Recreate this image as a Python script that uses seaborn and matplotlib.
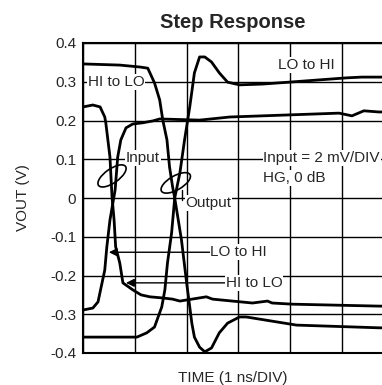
import numpy as np
import pandas as pd
import matplotlib.pyplot as plt
import matplotlib.transforms as mtransforms
from matplotlib.patches import Ellipse
import seaborn as sns

# input, HI to LO
in_h2l_t = [0, 0.19, 0.33, 0.42, 0.44, 0.48, 0.52, 0.54, 0.56, 0.60, 0.63, 0.71, 0.77, 0.96, 1.12,
            1.29, 1.54, 1.73, 1.87, 2.38, 2.5, 3.27, 3.56, 3.65, 4.04, 5.71, 5.8]
in_h2l_v = [0.235, 0.24, 0.235, 0.209, 0.194, 0.15, 0.106, 0.054, 0.003, -0.057, -0.126, -0.168, -0.219,
            -0.237, -0.25, -0.255, -0.258, -0.261, -0.266, -0.255, -0.261, -0.271, -0.266, -0.271, -0.274,
            -0.279, -0.279]

# input, LO to HI
in_l2h_t = [0, 0.19, 0.29, 0.35, 0.42, 0.46, 0.52, 0.62, 0.67, 0.73, 0.83, 0.96, 1.15, 1.35, 1.48,
            2.25, 2.83, 4.94, 5.19, 5.42, 5.71, 5.8]
in_l2h_v = [-0.289, -0.284, -0.268, -0.23, -0.186, -0.126, -0.057, 0.021, 0.106, 0.15, 0.181, 0.191,
            0.194, 0.199, 0.204, 0.201, 0.209, 0.219, 0.212, 0.225, 0.222, 0.222]

# output, HI to LO
out_h2l_t = [0, 0.71, 1.1, 1.25, 1.38, 1.48, 1.54, 1.62, 1.67, 1.73, 1.77, 1.9, 2.0, 2.06, 2.1, 2.15,
             2.25, 2.35, 2.48, 2.63, 2.79, 3.02, 3.15, 4.12, 5.71, 5.8]
out_h2l_v = [0.346, 0.343, 0.338, 0.335, 0.297, 0.253, 0.201, 0.15, 0.08, 0.028, 0.0, -0.108, -0.219,
             -0.281, -0.323, -0.359, -0.385, -0.397, -0.387, -0.348, -0.323, -0.307, -0.307, -0.328,
             -0.335, -0.335]

# output, LO to HI
out_l2h_t = [0, 1.04, 1.23, 1.38, 1.52, 1.58, 1.63, 1.71, 1.77, 1.87, 1.96, 2.06, 2.15, 2.25, 2.35,
             2.48, 2.63, 2.79, 3.02, 3.46, 3.98, 5.08, 5.38, 5.71, 5.8]
out_l2h_v = [-0.359, -0.359, -0.348, -0.333, -0.281, -0.237, -0.168, -0.09, 0.0, 0.065, 0.15, 0.235,
             0.323, 0.364, 0.364, 0.351, 0.323, 0.299, 0.292, 0.294, 0.299, 0.31, 0.312, 0.312, 0.312]

yticks = [0.4, 0.3, 0.2, 0.1, 0, -0.1, -0.2, -0.3, -0.4]
ytick_labels = ['0.4', '0.3', '0.2', '0.1', '0', '-0.1', '-0.2', '-0.3', '-0.4']

sns.set_style('white')
plt.rcParams['font.family'] = ['Liberation Sans', 'DejaVu Sans']
plt.rcParams['axes.unicode_minus'] = False

fig = plt.figure(figsize=(3.82, 3.85), dpi=100)
ax = fig.add_axes([83 / 382, 32 / 385, 299 / 382, 310 / 385])

for t, v in [(in_h2l_t, in_h2l_v), (in_l2h_t, in_l2h_v), (out_h2l_t, out_h2l_v), (out_l2h_t, out_l2h_v)]:
    sns.lineplot(x=t, y=v, ax=ax, color='black', lw=2, sort=False, estimator=None, zorder=3)

ax.set_xlim(0, 5.77)
ax.set_ylim(-0.4, 0.4)
ax.set_xticks(np.arange(0, 6))
ax.set_xticklabels([])
ax.set_yticks(yticks)
ax.set_yticklabels(ytick_labels, fontsize=11)
ax.tick_params(length=0, pad=5)
ax.grid(True, color='black', lw=1.0)
for s in ['left', 'top', 'bottom']:
    ax.spines[s].set_color('black')
    ax.spines[s].set_linewidth(1.5)
ax.spines['right'].set_visible(False)

ax.set_title('Step Response', fontsize=14.5, fontweight='bold', pad=11)
ax.set_xlabel('TIME (1 ns/DIV)', fontsize=11, labelpad=8)
ax.set_ylabel('VOUT (V)', fontsize=11, labelpad=14)

fs = 11
box = dict(facecolor='white', edgecolor='none', pad=0.6)
ax.text(0.64, 0.299, 'HI to LO', ha='center', va='center', fontsize=fs, bbox=box, zorder=4)
ax.text(4.31, 0.343, 'LO to HI', ha='center', va='center', fontsize=fs, bbox=box, zorder=4)
ax.text(0.83, 0.103, 'Input', ha='left', va='center', fontsize=fs, bbox=box, zorder=4)
ax.text(1.98, -0.013, 'Output', ha='left', va='center', fontsize=fs, bbox=box, zorder=4)
ax.text(3.48, 0.103, 'Input = 2 mV/DIV', ha='left', va='center', fontsize=fs, bbox=box, zorder=4)
ax.text(3.48, 0.052, 'HG, 0 dB', ha='left', va='center', fontsize=fs, bbox=box, zorder=4)

arrow = dict(arrowstyle='-|>', color='black', lw=1, shrinkA=0, shrinkB=0, mutation_scale=12)
ax.annotate('LO to HI', xy=(0.5, -0.14), xytext=(2.46, -0.14), ha='left', va='center',
            fontsize=fs, bbox=box, arrowprops=arrow, zorder=4)
ax.annotate('HI to LO', xy=(0.83, -0.219), xytext=(2.75, -0.219), ha='left', va='center',
            fontsize=fs, bbox=box, arrowprops=arrow, zorder=4)

# ellipses drawn in inches around data points
for cx, cy, ang in [(0.56, 0.057, 35), (1.79, 0.039, 30)]:
    tr = fig.dpi_scale_trans + mtransforms.ScaledTranslation(cx, cy, ax.transData)
    ax.add_patch(Ellipse((0, 0), 0.33, 0.14, angle=ang, transform=tr, fill=False,
                         color='black', lw=1.2, zorder=5))
ax.plot([1.92, 1.92], [0.02, -0.005], color='black', lw=1, zorder=4)

fig.savefig('out.png', dpi=100)
